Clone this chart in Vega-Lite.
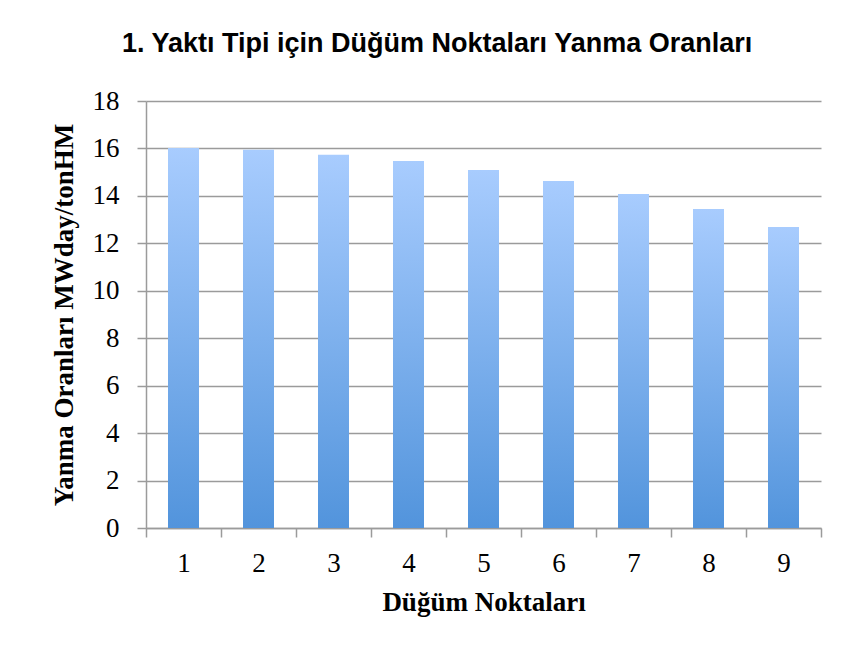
{
  "$schema": "https://vega.github.io/schema/vega-lite/v6.json",
  "autosize": "none",
  "width": 675,
  "height": 427,
  "padding": {"left": 146, "top": 101, "right": 25, "bottom": 127},
  "background": "white",
  "title": {
    "text": "1. Yaktı Tipi için Düğüm Noktaları Yanma Oranları",
    "font": "Liberation Sans",
    "fontSize": 27,
    "fontWeight": "bold",
    "color": "#000000",
    "anchor": "start",
    "frame": "group",
    "dx": -24,
    "offset": 29
  },
  "data": {
    "values": [
      {"nokta": 1, "oran": 16.02},
      {"nokta": 2, "oran": 15.94},
      {"nokta": 3, "oran": 15.73},
      {"nokta": 4, "oran": 15.47},
      {"nokta": 5, "oran": 15.09},
      {"nokta": 6, "oran": 14.63},
      {"nokta": 7, "oran": 14.08},
      {"nokta": 8, "oran": 13.45},
      {"nokta": 9, "oran": 12.69}
    ]
  },
  "layer": [
    {
      "mark": {
        "type": "bar",
        "width": 31,
        "color": {
          "gradient": "linear",
          "x1": 0, "y1": 0, "x2": 0, "y2": 1,
          "stops": [
            {"offset": 0, "color": "#a8ccfe"},
            {"offset": 1, "color": "#5294dc"}
          ]
        }
      },
      "encoding": {
        "x": {
          "field": "nokta",
          "type": "quantitative",
          "scale": {"domain": [0.5, 9.5], "nice": false, "zero": false, "padding": 0},
          "axis": {
            "orient": "bottom",
            "values": [1, 2, 3, 4, 5, 6, 7, 8, 9],
            "ticks": false,
            "domain": false,
            "grid": false,
            "labelFont": "Liberation Serif",
            "labelFontSize": 27,
            "labelColor": "#000000",
            "labelPadding": 22,
            "labelFlush": false,
            "title": "Düğüm Noktaları",
            "titleFont": "Liberation Serif",
            "titleFontSize": 27,
            "titleFontWeight": "bold",
            "titleColor": "#000000",
            "titlePadding": 13
          }
        },
        "y": {
          "field": "oran",
          "type": "quantitative",
          "scale": {"domain": [0, 18], "nice": false},
          "axis": {
            "values": [0, 2, 4, 6, 8, 10, 12, 14, 16, 18],
            "grid": true,
            "gridColor": "#9b9b9b",
            "gridWidth": 1.5,
            "domainColor": "#9b9b9b",
            "domainWidth": 1.5,
            "tickColor": "#9b9b9b",
            "tickWidth": 1.5,
            "tickSize": 9,
            "labelFont": "Liberation Serif",
            "labelFontSize": 27,
            "labelColor": "#000000",
            "labelPadding": 18,
            "title": "Yanma Oranları MWday/tonHM",
            "titleFont": "Liberation Serif",
            "titleFontSize": 27,
            "titleFontWeight": "bold",
            "titleColor": "#000000",
            "titlePadding": 14
          }
        }
      }
    },
    {
      "mark": {"type": "bar", "width": 31, "opacity": 0},
      "encoding": {
        "x": {
          "field": "nokta",
          "type": "quantitative",
          "axis": {
            "orient": "bottom",
            "values": [0.5, 1.5, 2.5, 3.5, 4.5, 5.5, 6.5, 7.5, 8.5, 9.5],
            "labels": false,
            "ticks": true,
            "tickSize": 9,
            "tickColor": "#9b9b9b",
            "tickWidth": 1.5,
            "domain": true,
            "domainColor": "#9b9b9b",
            "domainWidth": 1.5,
            "grid": false,
            "title": null
          }
        },
        "y": {"field": "oran", "type": "quantitative"}
      }
    }
  ],
  "resolve": {"axis": {"x": "independent"}},
  "config": {
    "view": {"stroke": null}
  }
}
